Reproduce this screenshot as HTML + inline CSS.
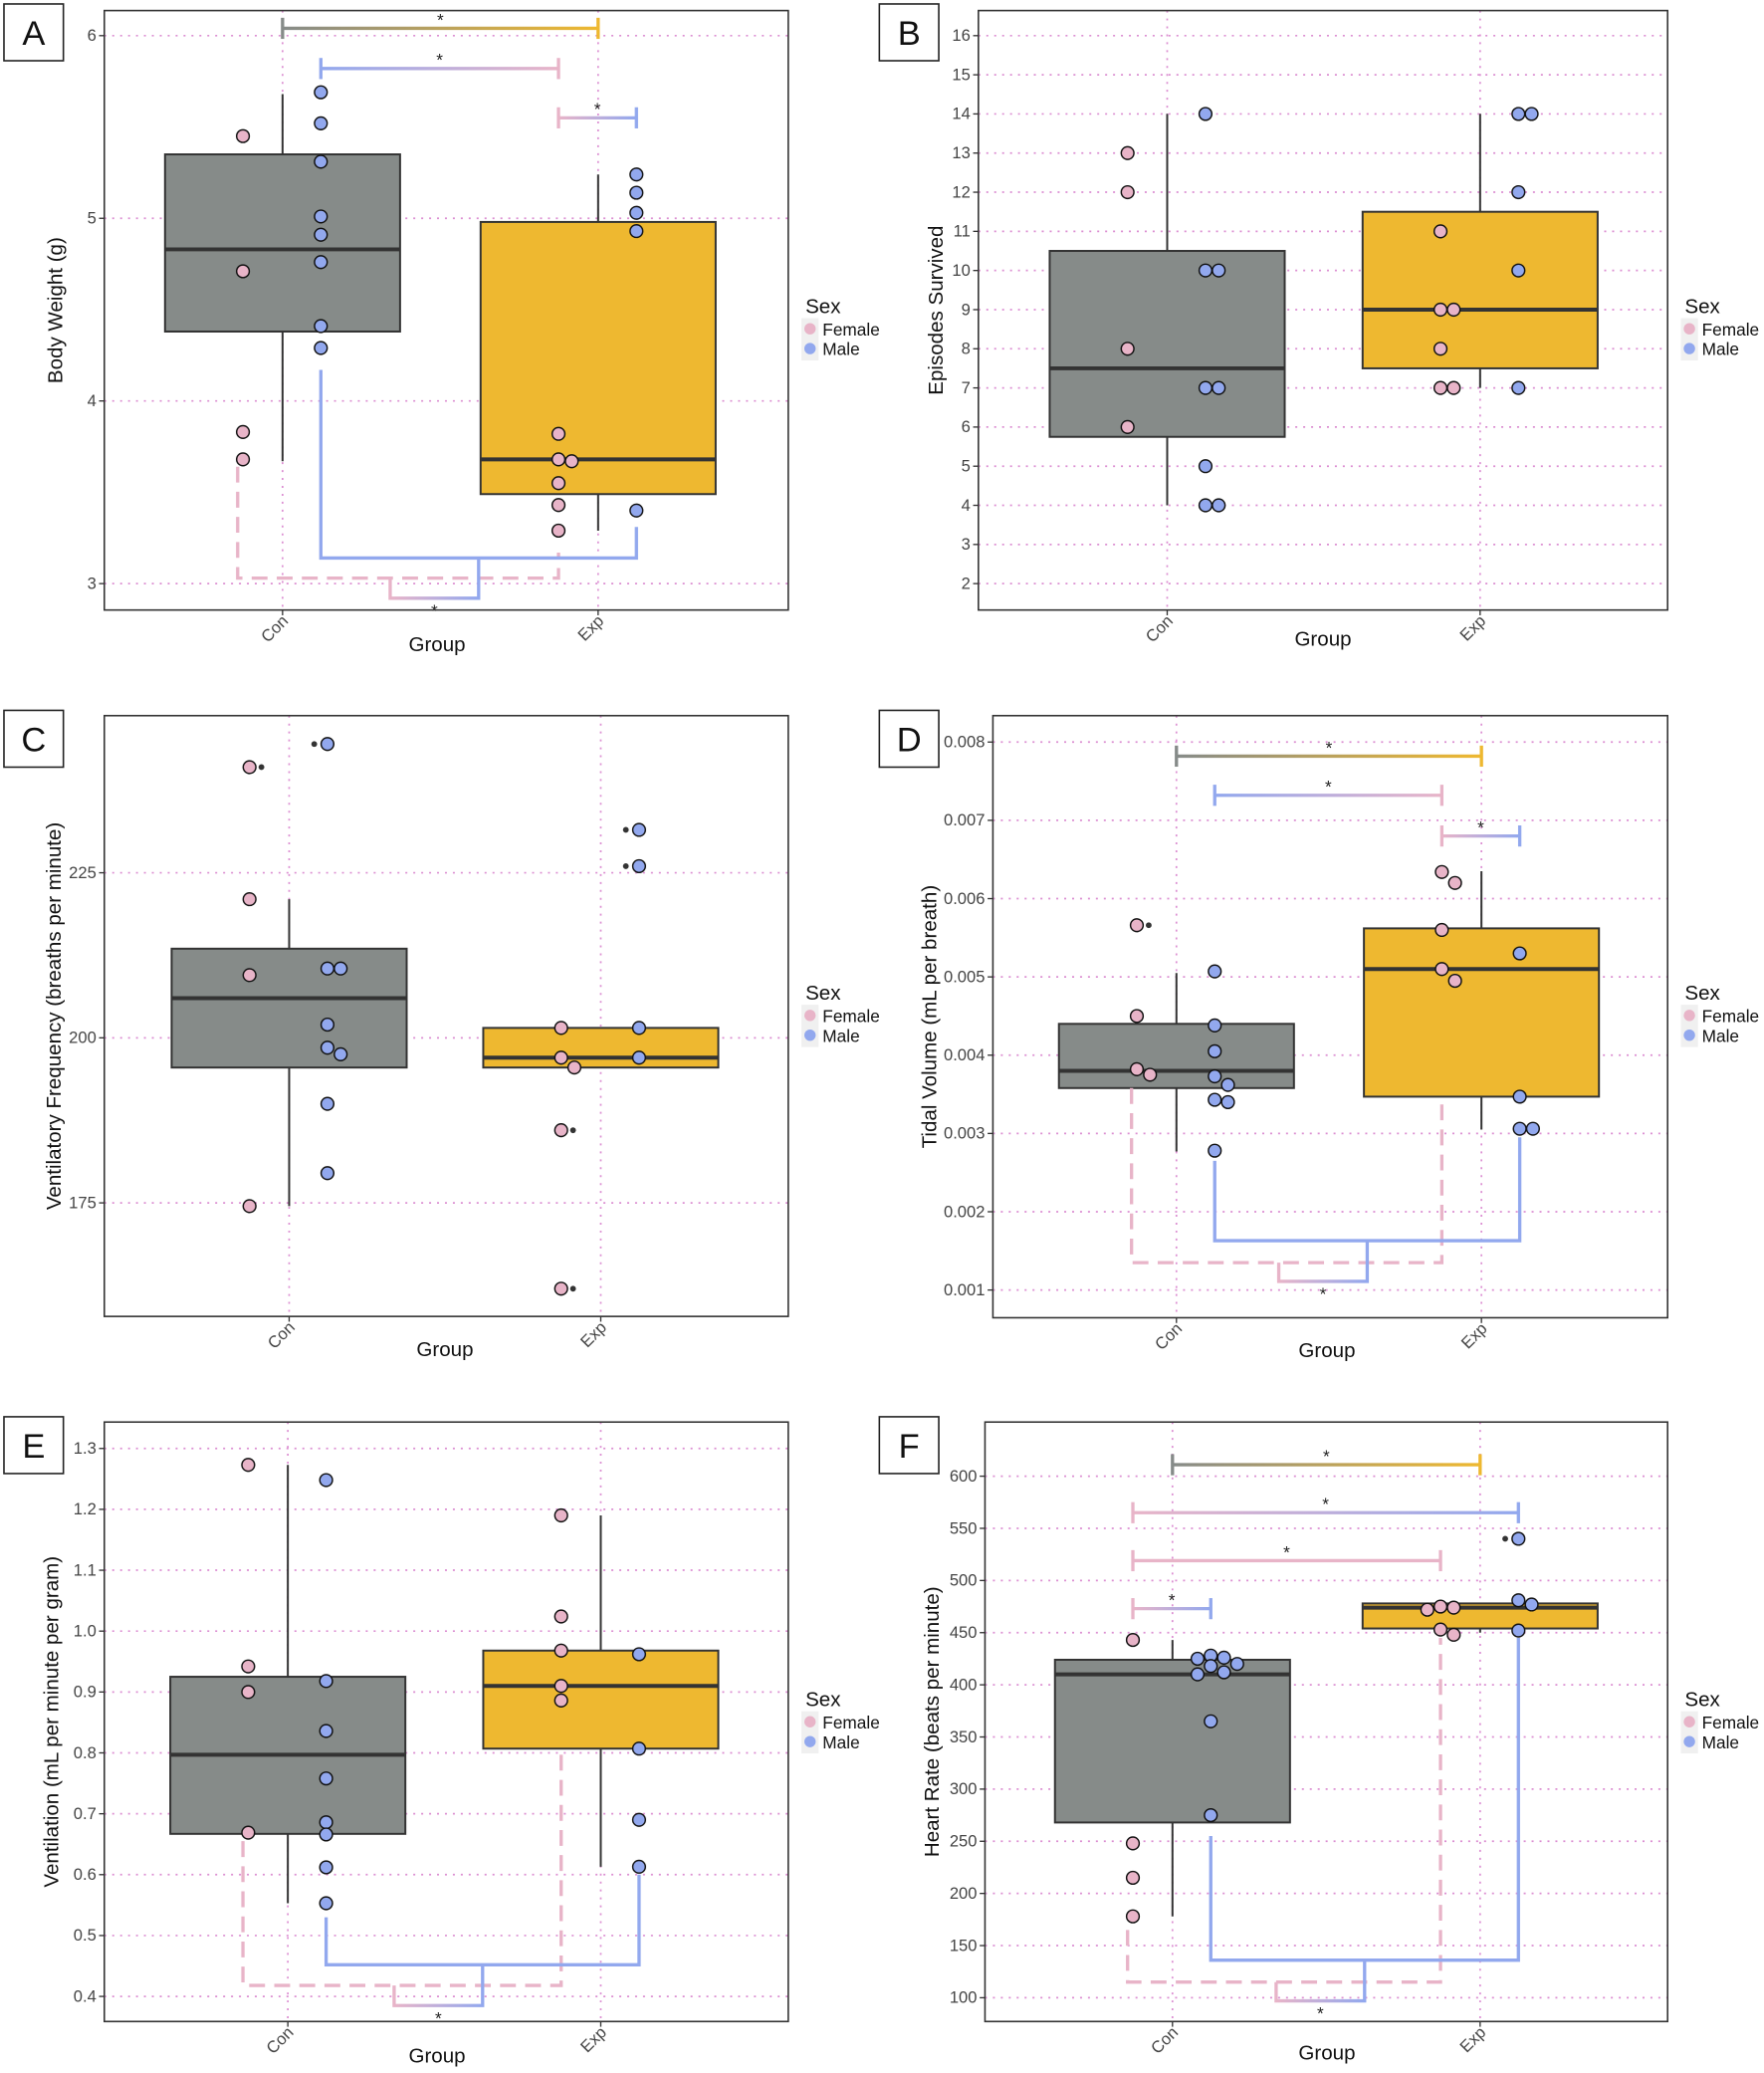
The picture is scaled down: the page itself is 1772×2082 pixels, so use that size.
<!DOCTYPE html>
<html><head><meta charset="utf-8"><style>
html,body{margin:0;padding:0;background:#fff}
svg{display:block}
text{font-family:"Liberation Sans",sans-serif}
</style></head><body>
<svg id="fig" width="1772" height="2082" viewBox="0 0 1336 1570" preserveAspectRatio="none" xmlns="http://www.w3.org/2000/svg"><defs id="defs"></defs></svg>
<script>
// ---- data ----
const groups = ["Con","Exp"];
const aTicks = [3,4,5,6];
const aBoxCon = [3.67,4.38,4.83,5.35,5.68];
const aBoxExp = [3.29,3.49,3.68,4.98,5.24];
const aConF = [5.45,4.71,3.83,3.68];
const aConM = [5.69,5.52,5.31,5.01,4.91,4.76,4.41,4.29];
const aExpF = [3.82,3.68,3.67,3.55,3.43,3.29];
const aExpM = [5.24,5.14,5.03,4.93,3.40];
const bTicks = [2,3,4,5,6,7,8,9,10,11,12,13,14,15,16];
const bBoxCon = [4,5.75,7.5,10.5,14];
const bBoxExp = [7,7.5,9,11.5,14];
const bConF = [13,12,8,6];
const bConM = [14,10,10,7,7,5,4,4];
const bExpF = [11,9,9,8,7,7];
const bExpM = [14,14,12,10,7];
const cTicks = [175,200,225];
const cBoxCon = [174.5,195.5,206,213.5,221];
const cBoxExp = [195.5,195.5,197,201.5,201.5];
const cConF = [241,221,209.5,174.5];
const cConM = [244.5,210.5,210.5,202,198.5,197.5,190,179.5];
const cExpF = [201.5,197,195.5,186,162];
const cExpM = [231.5,226,201.5,197];
const cOutliers = [241,244.5,186,162,231.5,226];
const dTicks = [0.001,0.002,0.003,0.004,0.005,0.006,0.007,0.008];
const dBoxCon = [0.00277,0.00358,0.0038,0.0044,0.00505];
const dBoxExp = [0.00305,0.00347,0.0051,0.00562,0.00635];
const dConF = [0.00566,0.0045,0.00382,0.00375];
const dConM = [0.00507,0.00438,0.00405,0.00373,0.00362,0.00343,0.0034,0.00278];
const dExpF = [0.00634,0.0062,0.0056,0.0051,0.00495];
const dExpM = [0.0053,0.00347,0.00306,0.00306];
const dOutliers = [0.00566];
const eTicks = [0.4,0.5,0.6,0.7,0.8,0.9,1.0,1.1,1.2,1.3];
const eBoxCon = [0.553,0.667,0.797,0.925,1.273];
const eBoxExp = [0.613,0.807,0.91,0.968,1.19];
const eConF = [1.273,0.942,0.9,0.669];
const eConM = [1.248,0.918,0.836,0.758,0.686,0.666,0.612,0.553];
const eExpF = [1.19,1.024,0.968,0.91,0.886];
const eExpM = [0.962,0.807,0.69,0.613];
const fTicks = [100,150,200,250,300,350,400,450,500,550,600];
const fBoxCon = [178,268,410,424,443];
const fBoxExp = [450,454,474,478,478];
const fConF = [443,248,215,178];
const fConM = [428,426,425,420,418,412,410,365,275];
const fExpF = [475,474,472,453,448];
const fExpM = [540,481,477,452];
const fOutliers = [540];

const C = {gray:"#868b89",orange:"#eeb830",pink:"#e8b4c8",blue:"#92a8ee",grid:"#dc8fd2"};
const NS="http://www.w3.org/2000/svg";
const svg=document.getElementById('fig');
const defs=document.getElementById('defs');
let gid=0;
function el(tag,attrs,parent){const e=document.createElementNS(NS,tag);for(const k in attrs)e.setAttribute(k,attrs[k]);(parent||svg).appendChild(e);return e;}
function grad(x1,x2,c1,c2){const id='g'+(gid++);const g=el('linearGradient',{id:id,gradientUnits:'userSpaceOnUse',x1:x1,y1:0,x2:x2,y2:0},defs);el('stop',{offset:0,'stop-color':c1},g);el('stop',{offset:1,'stop-color':c2},g);return 'url(#'+id+')';}

function panel(p){
  const g=el('g',{});
  
  
  const [L,T,R,B]=p.rect;
  const t0=p.ticks[0],t1=p.ticks[p.ticks.length-1];
  const y=v=>p.y0+(v-t0)*(p.y1-p.y0)/(t1-t0);
  const fOff=-30,mOff=29;
  const xk={con:p.cx[0],exp:p.cx[1],conF:p.cx[0]+fOff,conM:p.cx[0]+mOff,expF:p.cx[1]+fOff,expM:p.cx[1]+mOff};
  const lb=el('rect',{x:p.lab[0],y:p.lab[1],width:45,height:43,fill:'#fff',stroke:'#222','stroke-width':1.2},g);
  
  const lt=el('text',{x:p.lab[0]+22.5,y:p.lab[1]+31,'font-size':26,'text-anchor':'middle',fill:'#111'},g);lt.textContent=p.letter;
  
  p.ticks.forEach(v=>{const l=el('line',{x1:L,x2:R,y1:y(v),y2:y(v),stroke:C.grid,'stroke-width':1.3,'stroke-dasharray':'1.5 4.5'},g);
    });
  p.cx.forEach(x=>{const l=el('line',{x1:x,x2:x,y1:T,y2:B,stroke:C.grid,'stroke-width':1.3,'stroke-dasharray':'1.5 4.5'},g);
    });
  [p.boxCon,p.boxExp].forEach((bx,i)=>{
    const cx=p.cx[i],hw=89,fill=i?C.orange:C.gray;
    const w=el('line',{x1:cx,x2:cx,y1:y(bx[0]),y2:y(bx[4]),stroke:'#333','stroke-width':1.5},g);
    
    const r=el('rect',{x:cx-hw,y:y(bx[3]),width:2*hw,height:Math.max(1,y(bx[1])-y(bx[3])),fill:fill,stroke:'#333','stroke-width':1.5},g);
    
    const m=el('line',{x1:cx-hw,x2:cx+hw,y1:y(bx[2]),y2:y(bx[2]),stroke:'#333','stroke-width':3},g);
    
  });
  if(p.bottom){const b=p.bottom;
    const fx1=xk.conF-4,fx2=xk.expF,mx1=xk.conM,mx2=xk.expM;
    const fs=(fx1+fx2)/2-6,ms=(mx1+mx2)/2;
    const fp=el('polyline',{points:`${fx1},${y(b.f[0])} ${fx1},${y(b.f[2])} ${fx2},${y(b.f[2])} ${fx2},${y(b.f[1])}`,fill:'none',stroke:C.pink,'stroke-width':2.5,'stroke-dasharray':'12 7'},g);
    
    const mp=el('polyline',{points:`${mx1},${y(b.m[0])} ${mx1},${y(b.m[2])} ${mx2},${y(b.m[2])} ${mx2},${y(b.m[1])}`,fill:'none',stroke:C.blue,'stroke-width':2.5},g);
    
    const lk=el('polyline',{points:`${fs},${y(b.f[2])} ${fs},${y(b.link)} ${ms},${y(b.link)} ${ms},${y(b.m[2])}`,fill:'none',stroke:grad(fs,ms,C.pink,C.blue),'stroke-width':2.5},g);
    
    const st=el('text',{x:(fs+ms)/2,y:y(b.link)+14,'font-size':13,'text-anchor':'middle',fill:'#222'},g);st.textContent='*';
    
  }
  const sets=[['conF',p.conF,C.pink],['conM',p.conM,C.blue],['expF',p.expF,C.pink],['expM',p.expM,C.blue]];
  const dodge=[0,10,-10,20];
  sets.forEach(([k,vals,col])=>{
    let prev=null,n=0;
    vals.forEach(v=>{
      const py=y(v);
      if(prev!==null&&Math.abs(py-prev)<9){n=(n+1)%4;}else n=0;
      prev=py;
      const px=xk[k]+dodge[n];
      if(p.outliers&&p.outliers.includes(v)){
        const side=k.endsWith('F')?9:-10;
        const od=el('circle',{cx:px+side,cy:py,r:2.2,fill:'#333'},g);
        
      }
      const c=el('circle',{cx:px,cy:py,r:4.8,fill:col,stroke:'#111','stroke-width':1.1},g);
      
    });
  });
  (p.top||[]).forEach(tb=>{
    const x1=xk[tb.a],x2=xk[tb.b],yy=y(tb.v);
    const s=grad(x1,x2,tb.c1,tb.c2);
    const h=el('line',{x1:x1,x2:x2,y1:yy,y2:yy,stroke:s,'stroke-width':2.5},g);
    
    el('line',{x1:x1,x2:x1,y1:yy-8,y2:yy+8,stroke:tb.c1,'stroke-width':2.5},g);
    el('line',{x1:x2,x2:x2,y1:yy-8,y2:yy+8,stroke:tb.c2,'stroke-width':2.5},g);
    const st=el('text',{x:(x1+x2)/2,y:yy-2,'font-size':13,'text-anchor':'middle',fill:'#222'},g);st.textContent='*';
    
  });
  const fr=el('rect',{x:L,y:T,width:R-L,height:B-T,fill:'none',stroke:'#333','stroke-width':1.2},g);
  
  p.ticks.forEach(v=>{
    el('line',{x1:L-4,x2:L,y1:y(v),y2:y(v),stroke:'#333','stroke-width':1},g);
    const t=el('text',{x:L-6,y:y(v)+4,'font-size':12.5,'text-anchor':'end',fill:'#444'},g);
    t.textContent=p.fmt?p.fmt(v):String(v);
    
  });
  p.cx.forEach((x,i)=>{
    el('line',{x1:x,x2:x,y1:B,y2:B+4,stroke:'#333','stroke-width':1},g);
    const t=el('text',{x:x+5,y:B+9,'font-size':12.5,'text-anchor':'end',fill:'#444',transform:`rotate(-45 ${x+5} ${B+9})`},g);
    t.textContent=groups[i];
    
  });
  const xt=el('text',{x:p.gx,y:p.gy,'font-size':15.5,'text-anchor':'middle',fill:'#111'},g);xt.textContent='Group';
  
  const yc=(T+B)/2;
  const yt=el('text',{x:p.tx,y:yc,'font-size':15.5,'text-anchor':'middle',fill:'#111',transform:`rotate(-90 ${p.tx} ${yc})`},g);yt.textContent=p.title;
  
  const lx=p.legX,ly=p.legY;
  const lg=el('g',{},g);
  const sx=el('text',{x:lx,y:ly,'font-size':15.5,fill:'#111'},lg);sx.textContent='Sex';
  el('rect',{x:lx-3,y:ly+4,width:13,height:32,fill:'#f0f0f0'},lg);
  [['Female',C.pink],['Male',C.blue]].forEach(([n,c],i)=>{
    const d=el('circle',{cx:lx+3.5,cy:ly+12+i*15,r:4.3,fill:c},lg);
    
    const t=el('text',{x:lx+13,y:ly+17+i*15,'font-size':13,fill:'#111'},lg);t.textContent=n;
  });
}

const P=C.pink,B_=C.blue,G=C.gray,O=C.orange;
panel({letter:'A',lab:[3,3],rect:[79,8,597,462],ticks:aTicks,y0:442,y1:27,cx:[214,453],boxCon:aBoxCon,boxExp:aBoxExp,
  conF:aConF,conM:aConM,expF:aExpF,expM:aExpM,title:'Body Weight (g)',tx:47,gx:331,gy:493,legX:610,legY:237,
  top:[{a:'con',b:'exp',v:6.04,c1:G,c2:O},{a:'conM',b:'expF',v:5.82,c1:B_,c2:P},{a:'expF',b:'expM',v:5.55,c1:P,c2:B_}],
  bottom:{f:[3.64,3.17,3.03],m:[4.17,3.31,3.14],link:2.92}});
panel({letter:'B',lab:[666,3],rect:[741,8,1263,462],ticks:bTicks,y0:442,y1:27,cx:[884,1121],boxCon:bBoxCon,boxExp:bBoxExp,
  conF:bConF,conM:bConM,expF:bExpF,expM:bExpM,title:'Episodes Survived',tx:714,gx:1002,gy:489,legX:1276,legY:237});
panel({letter:'C',lab:[3,538],rect:[79,542,597,997],ticks:cTicks,y0:911,y1:661,cx:[219,455],boxCon:cBoxCon,boxExp:cBoxExp,
  conF:cConF,conM:cConM,expF:cExpF,expM:cExpM,outliers:cOutliers,title:'Ventilatory Frequency (breaths per minute)',tx:46,gx:337,gy:1027,legX:610,legY:757});
panel({letter:'D',lab:[666,538],rect:[752,542,1263,998],ticks:dTicks,y0:977,y1:562,cx:[891,1122],boxCon:dBoxCon,boxExp:dBoxExp,
  conF:dConF,conM:dConM,expF:dExpF,expM:dExpM,outliers:dOutliers,title:'Tidal Volume (mL per breath)',tx:709,gx:1005,gy:1028,legX:1276,legY:757,fmt:v=>v.toFixed(3),
  top:[{a:'con',b:'exp',v:0.00782,c1:G,c2:O},{a:'conM',b:'expF',v:0.00732,c1:B_,c2:P},{a:'expF',b:'expM',v:0.0068,c1:P,c2:B_}],
  bottom:{f:[0.00358,0.00347,0.00135],m:[0.00265,0.00295,0.00163],link:0.00111}});
panel({letter:'E',lab:[3,1073],rect:[79,1077,597,1531],ticks:eTicks,y0:1512,y1:1097,cx:[218,455],boxCon:eBoxCon,boxExp:eBoxExp,
  conF:eConF,conM:eConM,expF:eExpF,expM:eExpM,title:'Ventilation (mL per minute per gram)',tx:44,gx:331,gy:1562,legX:610,legY:1292,fmt:v=>v.toFixed(1),
  bottom:{f:[0.655,0.8,0.418],m:[0.53,0.6,0.452],link:0.385}});
panel({letter:'F',lab:[666,1073],rect:[746,1077,1263,1531],ticks:fTicks,y0:1513,y1:1118,cx:[888,1121],boxCon:fBoxCon,boxExp:fBoxExp,
  conF:fConF,conM:fConM,expF:fExpF,expM:fExpM,outliers:fOutliers,title:'Heart Rate (beats per minute)',tx:711,gx:1005,gy:1560,legX:1276,legY:1292,
  top:[{a:'con',b:'exp',v:611,c1:G,c2:O},{a:'conF',b:'expM',v:565,c1:P,c2:B_},{a:'conF',b:'expF',v:519,c1:P,c2:P},{a:'conF',b:'conM',v:473,c1:P,c2:B_}],
  bottom:{f:[165,445,115],m:[255,445,136],link:97}});
</script>
</body></html>
